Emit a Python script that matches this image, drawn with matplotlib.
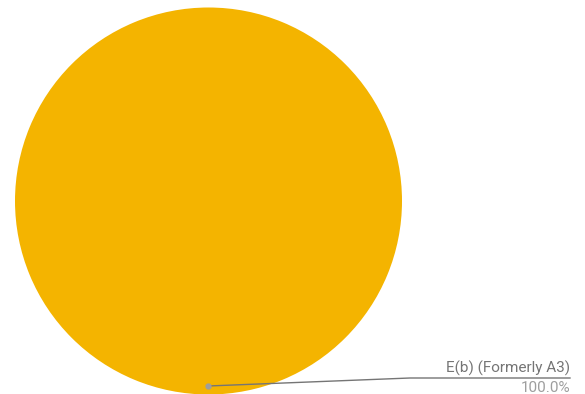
import matplotlib
matplotlib.use("Agg")
import matplotlib.pyplot as plt

labels = ["E(b) (Formerly A3)"]
values = [100.0]
colors = ["#F4B400"]

W, H = 585, 394
fig = plt.figure(figsize=(W / 100, H / 100), dpi=100)
ax = fig.add_axes([0, 0, 1, 1])

cx, cy, r = 208.5, 201, 193.5
ax.pie(values, colors=colors, center=(cx, cy), radius=r, startangle=90,
       counterclock=False, frame=True, wedgeprops=dict(linewidth=0))
ax.set_xlim(0, W)
ax.set_ylim(H, 0)
ax.set_aspect("auto")
ax.axis("off")

# leader line
ax.plot([208, 410, 570], [386, 378, 378], color="#757575", lw=1.0, zorder=5)
ax.plot([208], [386], "o", color="#9e9e9e", ms=3.5, zorder=6)

total = sum(values)
ax.text(570, 375.5, labels[0], ha="right", va="bottom", fontsize=11,
        family="Roboto", color="#757575")
ax.text(570, 380.5, f"{values[0] / total * 100:.1f}%", ha="right", va="top",
        fontsize=11, family="Roboto", color="#9e9e9e")

fig.savefig("out.png", dpi=100)
